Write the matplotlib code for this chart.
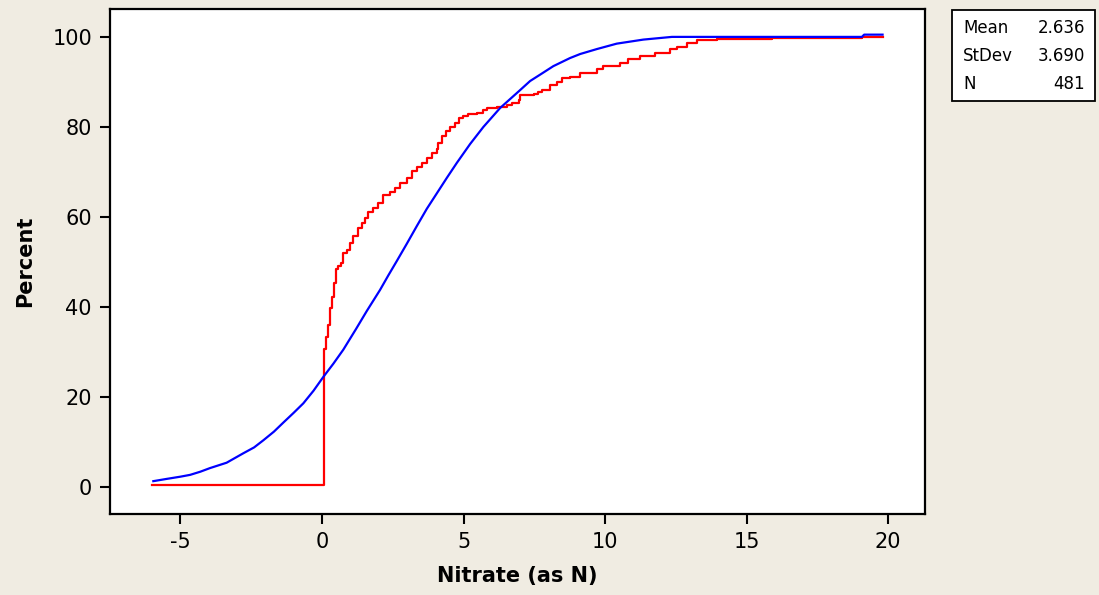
import matplotlib
matplotlib.use("Agg")
import matplotlib.pyplot as plt

plt.rcParams["axes.unicode_minus"] = False

# Empirical CDF of Nitrate (as N) -- step points (value, cumulative percent)
ecdf_x = [-6.0, 0.06, 0.13, 0.20, 0.27, 0.34, 0.42, 0.49, 0.58, 0.66, 0.73, 0.87,
          0.99, 1.11, 1.28, 1.40, 1.52, 1.64, 1.81, 1.99, 2.17, 2.40, 2.58, 2.76,
          2.99, 3.17, 3.35, 3.52, 3.70, 3.88, 4.05, 4.11, 4.23, 4.38, 4.52, 4.70,
          4.85, 4.99, 5.17, 5.47, 5.70, 5.82, 6.17, 6.53, 6.70, 6.94, 7.00, 7.47,
          7.64, 7.76, 8.06, 8.29, 8.47, 8.76, 9.12, 9.71, 9.94, 10.53, 10.82,
          11.24, 11.77, 12.30, 12.53, 12.89, 13.24, 13.95, 15.90, 19.07, 19.80]
ecdf_pct = [0.4, 30.7, 33.4, 36.0, 39.7, 42.3, 45.4, 48.4, 49.1, 49.8, 51.9, 52.7,
            54.1, 55.8, 57.5, 58.7, 59.7, 61.2, 61.9, 63.0, 64.9, 65.6, 66.4, 67.5,
            68.6, 70.1, 71.0, 71.9, 73.0, 74.3, 75.0, 76.4, 78.0, 79.0, 79.9, 80.8,
            81.9, 82.4, 82.9, 83.0, 83.8, 84.2, 84.5, 84.9, 85.3, 86.0, 87.1, 87.3,
            87.8, 88.2, 89.3, 89.9, 90.8, 91.2, 91.9, 92.9, 93.6, 94.3, 95.0,
            95.8, 96.5, 97.3, 97.8, 98.6, 99.2, 99.6, 99.8, 100.0, 100.0]

# Fitted normal CDF
fit_x = [-5.96, -5.49, -5.00, -4.66, -4.30, -3.96, -3.37, -2.78, -2.40, -2.07,
         -1.70, -1.37, -1.00, -0.66, -0.30, 0.05, 0.40, 0.75, 1.20, 1.58, 2.05,
         2.34, 2.64, 2.99, 3.35, 3.70, 4.05, 4.41, 4.76, 5.23, 5.70, 6.29, 7.00,
         7.35, 7.70, 8.17, 8.76, 9.12, 9.71, 10.41, 11.35, 12.36, 19.07, 19.15, 19.80]
fit_pct = [1.3, 1.8, 2.3, 2.7, 3.4, 4.2, 5.4, 7.5, 8.8, 10.4,
           12.3, 14.3, 16.5, 18.6, 21.4, 24.5, 27.4, 30.5, 35.1, 39.1, 43.8,
           47.0, 50.2, 54.0, 58.0, 61.8, 65.2, 68.7, 72.0, 76.2, 80.0, 84.2, 88.2,
           90.2, 91.6, 93.5, 95.3, 96.2, 97.3, 98.5, 99.4, 100.0, 100.0, 100.5, 100.5]

stat_labels = ["Mean", "StDev", "N"]
stat_values = ["2.636", "3.690", "481"]

xticks = [-5, 0, 5, 10, 15, 20]
yticks = [0, 20, 40, 60, 80, 100]

bg = "#F0ECE2"
fig = plt.figure(figsize=(10.99, 5.95), dpi=100, facecolor=bg)
ax = fig.add_axes([0.1001, 0.1361, 0.7416, 0.8488])
ax.set_facecolor("white")

ax.plot(ecdf_x, ecdf_pct, drawstyle="steps-post", color="#FF0000", lw=1.6, zorder=2)
ax.plot(fit_x, fit_pct, color="#0000FF", lw=1.6, zorder=3)

ax.set_xlim(-7.49, 21.3)
ax.set_ylim(-6.0, 106.2)
ax.set_xticks(xticks)
ax.set_yticks(yticks)
ax.tick_params(direction="out", length=7, width=1.5, labelsize=15, pad=6, color="black")
for s in ax.spines.values():
    s.set_linewidth(1.6)
    s.set_color("black")

ax.set_xlabel("Nitrate (as N)", fontsize=15, fontweight="bold", labelpad=10)
ax.set_ylabel("Percent", fontsize=15, fontweight="bold", labelpad=12)

# Statistics box
bx0, by0, bw, bh = 952 / 1099, 1 - 101 / 595, 143 / 1099, 91 / 595
rect = plt.Rectangle((bx0, by0), bw, bh, transform=fig.transFigure,
                     facecolor="white", edgecolor="black", lw=1.3)
fig.patches.append(rect)
row_y = [28, 56, 84]
for lab, val, ry in zip(stat_labels, stat_values, row_y):
    fig.text(963 / 1099, 1 - ry / 595, lab, fontsize=12, ha="left", va="center")
    fig.text(1085 / 1099, 1 - ry / 595, val, fontsize=12, ha="right", va="center")

fig.savefig("out.png", dpi=100, facecolor=bg)
